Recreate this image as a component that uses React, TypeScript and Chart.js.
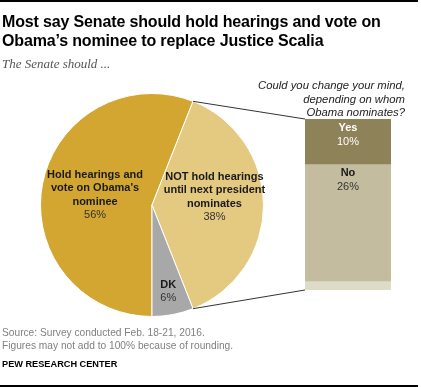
import React, { useEffect, useRef } from "react";
import { Chart, registerables } from "chart.js";

Chart.register(...registerables);

// ---- data ----
const pieCategories = ["Hold hearings and vote on Obama's nominee", "NOT hold hearings until next president nominates", "DK"];
const pieValues = [56, 38, 6];
const pieLabelLines = [
  ["Hold hearings and", "vote on Obama's", "nominee"],
  ["NOT hold hearings", "until next president", "nominates"],
  ["DK"],
];
const barCategories = ["Yes", "No", "Other"];
const barValues = [10, 26, 2];
const barShowLabel = [true, true, false];

// ---- styles ----
const pieColors = ["#D2A630", "#E4C981", "#A8A8A8"];
const barColors = ["#8E8259", "#C3BC9E", "#DEDBC9"];
const barTextColors = [["#FFFFFF", "#FFFFFF"], ["#1A1A1A", "#333333"], ["#000", "#000"]];
const labelAnchor = [
  { f: 0.52, dy: 0 },
  { f: 0.56, dy: -9 },
  { f: 0.78, dy: 0 },
];
const SANS = '"Liberation Sans", Arial, sans-serif';
const SERIF = '"Liberation Serif", "Times New Roman", serif';

const W = 421;
const H = 387;

function topFor(baseline: number, size: number, lh: number) {
  return baseline - ((lh - 1.117 * size) / 2 + 0.905 * size);
}

export default function App() {
  const pieRef = useRef<HTMLCanvasElement>(null);
  const barRef = useRef<HTMLCanvasElement>(null);

  useEffect(() => {
    document.body.style.margin = "0";
    const barTotal = barValues.reduce((a, b) => a + b, 0);
    const barLabelPlugin = {
      id: "barLabels",
      afterDatasetsDraw(chart: any) {
        const ctx = chart.ctx;
        ctx.save();
        ctx.textAlign = "center";
        ctx.textBaseline = "alphabetic";
        chart.data.datasets.forEach((ds: any, i: number) => {
          if (!barShowLabel[i]) return;
          const el = chart.getDatasetMeta(i).data[0];
          const top = Math.min(el.y, el.base);
          ctx.fillStyle = barTextColors[i][0];
          ctx.font = `bold 11px ${SANS}`;
          ctx.fillText(barCategories[i], el.x, top + 12);
          ctx.fillStyle = barTextColors[i][1];
          ctx.font = `11px ${SANS}`;
          ctx.fillText(`${barValues[i]}%`, el.x, top + 26);
        });
        ctx.restore();
      },
    };
    const bar = new Chart(barRef.current!, {
      type: "bar",
      data: {
        labels: [""],
        datasets: barCategories.map((c, i) => ({
          label: c,
          data: [barValues[i]],
          backgroundColor: barColors[i],
          borderWidth: 0,
          barPercentage: 1,
          categoryPercentage: 1,
          stack: "s",
        })),
      },
      options: {
        responsive: false,
        animation: false,
        layout: { padding: 0 },
        plugins: { legend: { display: false }, tooltip: { enabled: false } },
        scales: {
          x: { stacked: true, display: false },
          y: { stacked: true, display: false, min: 0, max: barTotal, reverse: true },
        },
      },
      plugins: [barLabelPlugin],
    });

    const piePlugin = {
      id: "pieExtras",
      afterDatasetsDraw(chart: any) {
        const ctx = chart.ctx;
        const arcs = chart.getDatasetMeta(0).data;
        // connectors
        const bc = barRef.current!;
        const ox = bc.offsetLeft;
        const oy = bc.offsetTop;
        const first = bar.getDatasetMeta(0).data[0] as any;
        const last = bar.getDatasetMeta(barValues.length - 1).data[0] as any;
        const bx = ox + first.x - first.width / 2;
        const byTop = oy + Math.min(first.y, first.base);
        const byBot = oy + Math.max(last.y, last.base);
        const a0 = arcs[0] as any;
        const a1 = arcs[1] as any;
        ctx.save();
        ctx.strokeStyle = "#333";
        ctx.lineWidth = 1;
        ctx.beginPath();
        ctx.moveTo(a0.x + a0.outerRadius * Math.cos(a0.endAngle), a0.y + a0.outerRadius * Math.sin(a0.endAngle));
        ctx.lineTo(bx, byTop);
        ctx.moveTo(a1.x + a1.outerRadius * Math.cos(a1.endAngle), a1.y + a1.outerRadius * Math.sin(a1.endAngle));
        ctx.lineTo(bx, byBot);
        ctx.stroke();
        // labels
        ctx.textAlign = "center";
        ctx.textBaseline = "alphabetic";
        const lh = 13.3;
        arcs.forEach((arc: any, i: number) => {
          const mid = (arc.startAngle + arc.endAngle) / 2;
          const r = arc.outerRadius * labelAnchor[i].f;
          const cx = arc.x + r * Math.cos(mid);
          const cy = arc.y + r * Math.sin(mid) + labelAnchor[i].dy;
          const lines = pieLabelLines[i];
          const n = lines.length + 1;
          let y = cy - ((n - 1) * lh) / 2 + 4;
          ctx.fillStyle = "#1A1A1A";
          ctx.font = `bold 11px ${SANS}`;
          lines.forEach((t) => {
            ctx.fillText(t, cx, y);
            y += lh;
          });
          ctx.fillStyle = "#333";
          ctx.font = `11px ${SANS}`;
          ctx.fillText(`${pieValues[i]}%`, cx, y);
        });
        ctx.restore();
      },
    };

    const pie = new Chart(pieRef.current!, {
      type: "pie",
      data: {
        labels: pieCategories,
        datasets: [
          {
            data: pieValues,
            backgroundColor: pieColors,
            borderColor: "#FFFFFF",
            borderWidth: 1,
          },
        ],
      },
      options: {
        responsive: false,
        animation: false,
        rotation: 180,
        layout: { padding: { left: 40, top: 93, right: W - 264, bottom: H - 317 } },
        plugins: { legend: { display: false }, tooltip: { enabled: false } },
      },
      plugins: [piePlugin],
    });

    return () => {
      pie.destroy();
      bar.destroy();
    };
  }, []);

  const qSize = 11.3;
  const qLh = 13.5;
  return (
    <div style={{ position: "absolute", left: 0, top: 0, width: W, height: H, background: "#fff", overflow: "hidden" }}>
      <div style={{ position: "absolute", left: 0, top: 0, width: 418, height: 2, background: "#000" }} />
      <canvas ref={pieRef} width={W} height={H} style={{ position: "absolute", left: 0, top: 0 }} />
      <canvas ref={barRef} width={86} height={171} style={{ position: "absolute", left: 305, top: 119 }} />
      <div
        style={{
          position: "absolute",
          left: 2,
          top: topFor(27, 16, 19),
          fontFamily: SANS,
          fontWeight: "bold",
          fontSize: 16,
          lineHeight: "19px",
          letterSpacing: "-0.15px",
          color: "#000",
          whiteSpace: "nowrap",
        }}
      >
        Most say Senate should hold hearings and vote on
        <br />
        Obama’s nominee to replace Justice Scalia
      </div>
      <div
        style={{
          position: "absolute",
          left: 2,
          top: topFor(68, 13, 15) + 0.3,
          fontFamily: SERIF,
          fontStyle: "italic",
          fontSize: 13,
          lineHeight: "15px",
          color: "#555",
          whiteSpace: "nowrap",
        }}
      >
        The Senate should ...
      </div>
      <div
        style={{
          position: "absolute",
          right: W - 405,
          top: topFor(90, qSize, qLh),
          fontFamily: SANS,
          fontStyle: "italic",
          fontSize: qSize,
          lineHeight: `${qLh}px`,
          color: "#222",
          textAlign: "right",
          whiteSpace: "nowrap",
        }}
      >
        Could you change your mind,
        <br />
        depending on whom
        <br />
        Obama nominates?
      </div>
      <div
        style={{
          position: "absolute",
          left: 2,
          top: topFor(337, 10.2, 12.5),
          fontFamily: SANS,
          fontSize: 10.2,
          lineHeight: "12.5px",
          color: "#808080",
          whiteSpace: "nowrap",
        }}
      >
        Source: Survey conducted Feb. 18-21, 2016.
        <br />
        Figures may not add to 100% because of rounding.
      </div>
      <div
        style={{
          position: "absolute",
          left: 2,
          top: topFor(368, 9.2, 11),
          fontFamily: SANS,
          fontWeight: "bold",
          fontSize: 9.2,
          lineHeight: "11px",
          color: "#000",
          whiteSpace: "nowrap",
        }}
      >
        PEW RESEARCH CENTER
      </div>
      <div style={{ position: "absolute", left: 0, top: 385, width: 418, height: 2, background: "#000" }} />
    </div>
  );
}
